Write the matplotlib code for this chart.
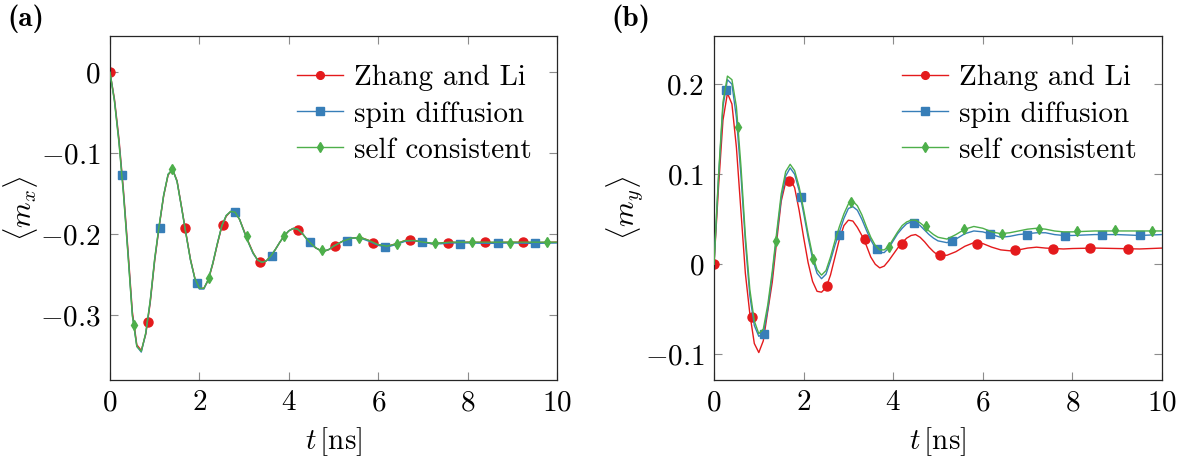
import matplotlib
matplotlib.use("Agg")
import matplotlib.pyplot as plt
from matplotlib.lines import Line2D
from matplotlib.ticker import FuncFormatter

# ----------------------------
# Data
# ----------------------------
t_line = [0.0, 0.1, 0.2, 0.3, 0.4, 0.5, 0.6, 0.7, 0.8, 0.9,
          1.0, 1.1, 1.2, 1.3, 1.4, 1.5, 1.6, 1.7, 1.8, 1.9,
          2.0, 2.1, 2.2, 2.3, 2.4, 2.5, 2.6, 2.7, 2.8, 2.9,
          3.0, 3.1, 3.2, 3.3, 3.4, 3.5, 3.6, 3.7, 3.8, 3.9,
          4.0, 4.1, 4.2, 4.3, 4.4, 4.5, 4.6, 4.7, 4.8, 4.9,
          5.0, 5.2, 5.4, 5.6, 5.8, 6.0, 6.2, 6.4, 6.6, 6.8,
          7.0, 7.2, 7.4, 7.6, 7.8, 8.0, 8.5, 9.0, 9.5, 10.0]

# panel (a): <m_x>
mx_zhang = [0.000, -0.033, -0.082, -0.145, -0.218, -0.296, -0.337, -0.344, -0.324, -0.285,
            -0.233, -0.191, -0.153, -0.127, -0.120, -0.134, -0.166, -0.199, -0.231, -0.255,
            -0.267, -0.267, -0.257, -0.237, -0.213, -0.191, -0.178, -0.172, -0.173, -0.182,
            -0.196, -0.210, -0.223, -0.232, -0.235, -0.233, -0.227, -0.219, -0.210, -0.202,
            -0.196, -0.193, -0.194, -0.199, -0.206, -0.212, -0.217, -0.220, -0.221, -0.219,
            -0.215, -0.209, -0.205, -0.204, -0.208, -0.213, -0.215, -0.212, -0.208, -0.208,
            -0.210, -0.212, -0.211, -0.210, -0.2105, -0.210, -0.2105, -0.210, -0.2105, -0.210]
mx_diffusion = [0.000, -0.035, -0.085, -0.148, -0.222, -0.300, -0.339, -0.346, -0.323, -0.283,
                -0.231, -0.190, -0.152, -0.126, -0.120, -0.135, -0.167, -0.200, -0.232, -0.256,
                -0.268, -0.268, -0.256, -0.236, -0.212, -0.190, -0.177, -0.172, -0.173, -0.182,
                -0.197, -0.211, -0.224, -0.232, -0.235, -0.233, -0.227, -0.219, -0.210, -0.202,
                -0.196, -0.193, -0.194, -0.199, -0.206, -0.212, -0.217, -0.220, -0.221, -0.219,
                -0.215, -0.209, -0.205, -0.205, -0.209, -0.214, -0.216, -0.213, -0.209, -0.208,
                -0.210, -0.212, -0.212, -0.211, -0.211, -0.211, -0.2115, -0.211, -0.2115, -0.211]
mx_selfcons = [0.000, -0.036, -0.087, -0.150, -0.224, -0.301, -0.339, -0.345, -0.322, -0.282,
               -0.230, -0.189, -0.152, -0.126, -0.120, -0.135, -0.167, -0.200, -0.232, -0.255,
               -0.267, -0.267, -0.256, -0.236, -0.212, -0.190, -0.177, -0.172, -0.173, -0.182,
               -0.197, -0.211, -0.223, -0.232, -0.235, -0.233, -0.227, -0.219, -0.210, -0.202,
               -0.196, -0.193, -0.194, -0.199, -0.206, -0.212, -0.217, -0.220, -0.221, -0.219,
               -0.215, -0.209, -0.205, -0.204, -0.208, -0.213, -0.215, -0.212, -0.208, -0.208,
               -0.210, -0.211, -0.211, -0.210, -0.210, -0.210, -0.210, -0.210, -0.210, -0.210]

# panel (b): <m_y>
my_zhang = [0.000, 0.085, 0.160, 0.190, 0.178, 0.130, 0.060, -0.010, -0.055, -0.088,
            -0.098, -0.085, -0.052, -0.020, 0.026, 0.070, 0.091, 0.095, 0.085, 0.060,
            0.030, 0.002, -0.019, -0.030, -0.031, -0.026, -0.012, 0.008, 0.028, 0.043,
            0.049, 0.048, 0.041, 0.032, 0.021, 0.008, 0.000, -0.004, -0.002, 0.004,
            0.011, 0.018, 0.024, 0.029, 0.032, 0.033, 0.030, 0.025, 0.019, 0.014,
            0.010, 0.010, 0.014, 0.020, 0.024, 0.023, 0.019, 0.016, 0.015, 0.016,
            0.018, 0.019, 0.018, 0.0175, 0.017, 0.0175, 0.018, 0.0175, 0.017, 0.018]
my_diffusion = [0.000, 0.095, 0.175, 0.205, 0.200, 0.163, 0.100, 0.025, -0.035, -0.068,
                -0.080, -0.077, -0.050, -0.012, 0.032, 0.073, 0.098, 0.107, 0.100, 0.082,
                0.057, 0.030, 0.006, -0.010, -0.016, -0.011, 0.004, 0.021, 0.036, 0.051,
                0.062, 0.064, 0.060, 0.050, 0.038, 0.027, 0.018, 0.013, 0.013, 0.018,
                0.026, 0.034, 0.040, 0.045, 0.047, 0.046, 0.043, 0.038, 0.033, 0.029,
                0.026, 0.024, 0.028, 0.034, 0.037, 0.036, 0.033, 0.030, 0.031, 0.033,
                0.034, 0.035, 0.035, 0.033, 0.032, 0.032, 0.033, 0.033, 0.032, 0.033]
my_selfcons = [0.000, 0.098, 0.180, 0.209, 0.205, 0.175, 0.110, 0.032, -0.028, -0.063,
               -0.077, -0.072, -0.045, -0.008, 0.036, 0.078, 0.103, 0.111, 0.104, 0.086,
               0.061, 0.034, 0.010, -0.006, -0.012, -0.007, 0.008, 0.026, 0.042, 0.056,
               0.067, 0.070, 0.065, 0.055, 0.042, 0.030, 0.021, 0.016, 0.016, 0.020,
               0.028, 0.036, 0.043, 0.047, 0.049, 0.049, 0.046, 0.042, 0.037, 0.033,
               0.030, 0.028, 0.033, 0.039, 0.042, 0.040, 0.036, 0.034, 0.035, 0.037,
               0.039, 0.040, 0.039, 0.037, 0.036, 0.036, 0.037, 0.037, 0.037, 0.037]

# marker positions (plotted every few samples in the original)
t_mark_zhang = [0.0, 0.84, 1.68, 2.52, 3.36, 4.20, 5.04, 5.88, 6.72, 7.56, 8.40, 9.24]
t_mark_diffusion = [0.27, 1.11, 1.95, 2.79, 3.63, 4.47, 5.31, 6.15, 6.99, 7.83, 8.67, 9.51]
t_mark_selfcons = [0.54, 1.38, 2.22, 3.06, 3.90, 4.74, 5.58, 6.42, 7.26, 8.10, 8.94, 9.78]

mx_mark_zhang = [0.000, -0.309, -0.193, -0.189, -0.234, -0.195, -0.215, -0.211, -0.2075, -0.2115, -0.2095, -0.210]
mx_mark_diffusion = [-0.127, -0.192, -0.260, -0.173, -0.227, -0.210, -0.208, -0.216, -0.210, -0.212, -0.2115, -0.2115]
mx_mark_selfcons = [-0.312, -0.120, -0.254, -0.203, -0.203, -0.220, -0.2045, -0.212, -0.211, -0.210, -0.211, -0.210]

my_mark_zhang = [0.000, -0.058, 0.093, -0.024, 0.028, 0.023, 0.010, 0.023, 0.016, 0.0175, 0.018, 0.017]
my_mark_diffusion = [0.194, -0.077, 0.075, 0.033, 0.0175, 0.046, 0.026, 0.034, 0.033, 0.031, 0.033, 0.032]
my_mark_selfcons = [0.153, 0.0255, 0.0055, 0.069, 0.019, 0.0425, 0.039, 0.034, 0.0395, 0.0366, 0.0377, 0.037]

labels = ["Zhang and Li", "spin diffusion", "self consistent"]
colors = ["#e41a1c", "#377eb8", "#4daf4a"]
markers = ["o", "s", "d"]
msizes = [6.5, 6.0, 5.5]

FS = 21

# ----------------------------
# Style (pgfplots-like, Computer Modern)
# ----------------------------
plt.rcParams["font.family"] = "cmr10"
plt.rcParams["mathtext.fontset"] = "cm"
plt.rcParams["axes.formatter.use_mathtext"] = True
plt.rcParams["font.size"] = FS

fig = plt.figure(figsize=(11.89, 4.59), dpi=100)
ax_a = fig.add_axes([110 / 1189, 1 - 380 / 459, 447 / 1189, 344 / 459])
ax_b = fig.add_axes([714 / 1189, 1 - 380 / 459, 448 / 1189, 344 / 459])


def tex_tick(v, pos):
    if abs(v) < 1e-9:
        return r"$0$"
    return r"$%g$" % v


def draw_panel(ax, series, marks):
    for i in range(3):
        ax.plot(t_line, series[i], color=colors[i], lw=1.0, zorder=2 + i)
        tm, ym = marks[i]
        ax.plot(tm, ym, linestyle="none", marker=markers[i], ms=msizes[i],
                color=colors[i], mec=colors[i], zorder=2 + i)
    handles = [Line2D([], [], color=colors[i], lw=1.0, marker=markers[i],
                      ms=msizes[i] * 0.85) for i in range(3)]
    ax.legend(handles, labels, loc="upper right", frameon=False, fontsize=FS,
              handlelength=1.55, handletextpad=0.4, labelspacing=0.33,
              borderaxespad=0.3, bbox_to_anchor=(0.99, 0.975))
    ax.set_xlim(0, 10)
    ax.set_xticks([0, 2, 4, 6, 8, 10])
    ax.xaxis.set_major_formatter(FuncFormatter(tex_tick))
    ax.yaxis.set_major_formatter(FuncFormatter(tex_tick))
    ax.tick_params(direction="in", top=True, right=True, length=6,
                   width=0.8, color="0.55", labelsize=FS, pad=7)
    for sp in ax.spines.values():
        sp.set_linewidth(0.9)
        sp.set_color("0.15")
    ax.set_xlabel(r"$t\,[\mathrm{ns}]$", fontsize=FS)
    ax.xaxis.set_label_coords(0.5, -0.13)


draw_panel(ax_a, [mx_zhang, mx_diffusion, mx_selfcons],
           [(t_mark_zhang, mx_mark_zhang), (t_mark_diffusion, mx_mark_diffusion),
            (t_mark_selfcons, mx_mark_selfcons)])
ax_a.set_ylim(-0.3805, 0.045)
ax_a.set_yticks([0, -0.1, -0.2, -0.3])
ax_a.set_ylabel(r"$\langle m_x \rangle$", fontsize=FS, va="center")
ax_a.yaxis.set_label_coords(-0.2, 0.5)

draw_panel(ax_b, [my_zhang, my_diffusion, my_selfcons],
           [(t_mark_zhang, my_mark_zhang), (t_mark_diffusion, my_mark_diffusion),
            (t_mark_selfcons, my_mark_selfcons)])
ax_b.set_ylim(-0.1285, 0.2535)
ax_b.set_yticks([-0.1, 0, 0.1, 0.2])
ax_b.set_ylabel(r"$\langle m_y \rangle$", fontsize=FS, va="center")
ax_b.yaxis.set_label_coords(-0.2, 0.5)

fig.text(7 / 1189, 1 - 19 / 459, "(a)", fontsize=FS, family="cmb10", va="center")
fig.text(611 / 1189, 1 - 19 / 459, "(b)", fontsize=FS, family="cmb10", va="center")

fig.savefig("out.png", dpi=100)
